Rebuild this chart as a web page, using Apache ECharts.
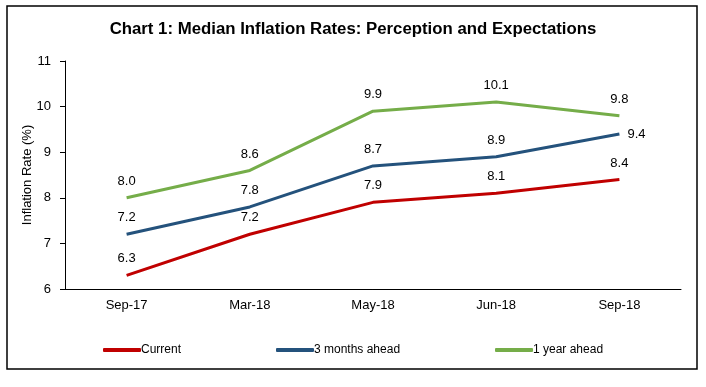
<!DOCTYPE html>
<html><head><meta charset="utf-8">
<script src="https://cdn.jsdelivr.net/npm/echarts@6/dist/echarts.min.js"></script>
<style>html,body{margin:0;padding:0;background:#fff}#c{width:706px;height:387px}</style>
</head><body><div id="c"></div>
<script>
const categories = ['Sep-17','Mar-18','May-18','Jun-18','Sep-18'];
const current = [6.3, 7.2, 7.9, 8.1, 8.4];
const threeMonths = [7.2, 7.8, 8.7, 8.9, 9.4];
const oneYear = [8.0, 8.6, 9.9, 10.1, 9.8];
const seriesNames = ['Current','3 months ahead','1 year ahead'];
const colors = ['#c00000','#24527c','#75ad49'];

const chart = echarts.init(document.getElementById('c'), null, {renderer:'canvas'});
const font = 'Liberation Sans, Arial, sans-serif';
function mk(name, data, color, lastPos){
  return {
    name, type:'line', symbol:'circle', symbolSize:0, showSymbol:true, color,
    itemStyle:{color},
    lineStyle:{width:3, color},
    label:{show:true, position:'top', distance:10, color:'#000', fontSize:13, fontFamily:font,
      formatter:p=>Number(p.value).toFixed(1)},
    emphasis:{disabled:true},
    data: data.map((v,i)=> (i===data.length-1 && lastPos) ? {value:v, label:{position:lastPos, distance:8}} : v)
  };
}
const legendBase = {bottom:26, itemWidth:38, itemHeight:4, icon:'roundRect',
  textStyle:{fontFamily:font, fontSize:12, color:'#000', padding:[0,0,0,-5]}};
chart.setOption({
  animation:false,
  title:{text:'Chart 1: Median Inflation Rates: Perception and Expectations', left:'center', top:16,
    textStyle:{fontFamily:font, fontSize:16.8, fontWeight:'bold', color:'#000'}},
  graphic:[{type:'rect', shape:{x:7,y:6,width:690,height:363}, style:{fill:'none', stroke:'#000', lineWidth:1.5}, silent:true}],
  grid:{left:65, right:25, top:61, bottom:98},
  legend:[
    Object.assign({left:98, data:[seriesNames[0]]}, legendBase),
    Object.assign({left:271, data:[seriesNames[1]]}, legendBase),
    Object.assign({left:490, data:[seriesNames[2]]}, legendBase)
  ],
  xAxis:{type:'category', data:categories, boundaryGap:true,
    axisLine:{lineStyle:{color:'#000', width:1}},
    axisTick:{alignWithLabel:true, length:4, lineStyle:{color:'#000'}},
    axisLabel:{color:'#000', fontFamily:font, fontSize:13, margin:10}},
  yAxis:{type:'value', min:6, max:11, interval:1,
    name:'Inflation Rate (%)', nameLocation:'middle', nameGap:31, nameRotate:90, nameMoveOverlap:false,
    nameTextStyle:{fontFamily:font, fontSize:13, color:'#000'},
    splitLine:{show:false},
    axisLine:{show:true, lineStyle:{color:'#000', width:1}},
    axisTick:{show:true, length:5, lineStyle:{color:'#000'}},
    axisLabel:{color:'#000', fontFamily:font, fontSize:13, margin:14}},
  series:[
    mk(seriesNames[0], current, colors[0]),
    mk(seriesNames[1], threeMonths, colors[1], 'right'),
    mk(seriesNames[2], oneYear, colors[2])
  ]
});
</script></body></html>
